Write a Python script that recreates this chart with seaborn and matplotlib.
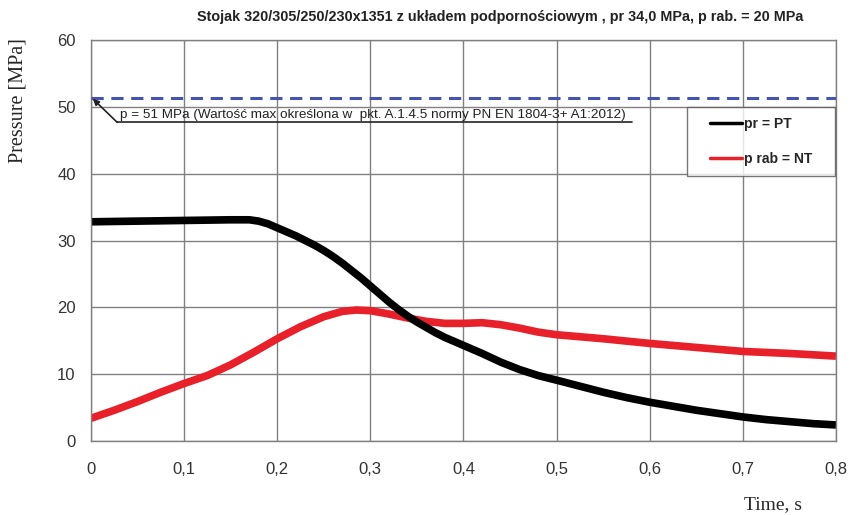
import pandas as pd
import matplotlib.pyplot as plt
import seaborn as sns
from matplotlib.lines import Line2D
from matplotlib.legend_handler import HandlerLine2D

# data
time_pr = [0, 0.05, 0.1, 0.15, 0.17, 0.18, 0.19, 0.2, 0.21, 0.22, 0.23, 0.24,
           0.25, 0.26, 0.27, 0.28, 0.29, 0.3, 0.31, 0.32, 0.33, 0.34, 0.35,
           0.36, 0.37, 0.38, 0.39, 0.4, 0.42, 0.44, 0.46, 0.48, 0.5, 0.525,
           0.55, 0.575, 0.6, 0.625, 0.65, 0.675, 0.7, 0.725, 0.75, 0.775, 0.8]
pr = [32.8, 32.9, 33.0, 33.1, 33.1, 32.9, 32.5, 31.9, 31.3, 30.7, 30.0, 29.3,
      28.5, 27.6, 26.6, 25.5, 24.4, 23.2, 22.0, 20.8, 19.7, 18.7, 17.8,
      17.0, 16.2, 15.5, 14.9, 14.3, 13.1, 11.8, 10.7, 9.8, 9.1, 8.2,
      7.3, 6.5, 5.8, 5.2, 4.6, 4.1, 3.6, 3.2, 2.9, 2.6, 2.4]

time_rab = [0, 0.025, 0.05, 0.075, 0.1, 0.125, 0.15, 0.175, 0.2, 0.225, 0.25,
            0.27, 0.285, 0.3, 0.32, 0.34, 0.36, 0.38, 0.4, 0.42, 0.44, 0.46,
            0.48, 0.5, 0.55, 0.6, 0.65, 0.7, 0.75, 0.8]
p_rab = [3.4, 4.6, 5.9, 7.3, 8.6, 9.8, 11.4, 13.3, 15.3, 17.1, 18.6,
         19.4, 19.6, 19.5, 19.0, 18.4, 17.9, 17.6, 17.6, 17.7, 17.4, 16.9,
         16.3, 15.9, 15.3, 14.6, 14.0, 13.4, 13.1, 12.7]

p_max = 51.3
x_ticks = [0, 0.1, 0.2, 0.3, 0.4, 0.5, 0.6, 0.7, 0.8]
x_labels = ['0', '0,1', '0,2', '0,3', '0,4', '0,5', '0,6', '0,7', '0,8']
y_ticks = [0, 10, 20, 30, 40, 50, 60]

df_pr = pd.DataFrame({'t': time_pr, 'p': pr})
df_rab = pd.DataFrame({'t': time_rab, 'p': p_rab})

sns.set_style('white')
plt.rcParams['font.family'] = ['Liberation Sans', 'DejaVu Sans']

fig = plt.figure(figsize=(8.52, 5.15), dpi=100)
ax = fig.add_axes([0.1068, 0.1437, 0.8744, 0.7786])

grey = '#808080'
sns.lineplot(data=df_rab, x='t', y='p', ax=ax, color='#e8202a', lw=5.5,
             legend=False, solid_joinstyle='round', solid_capstyle='butt')
sns.lineplot(data=df_pr, x='t', y='p', ax=ax, color='black', lw=5.5,
             legend=False, solid_joinstyle='round', solid_capstyle='butt')
ax.axhline(p_max, color='#4454b0', lw=2.2, dashes=(4, 2.5), zorder=3)

ax.set_xlim(0, 0.8)
ax.set_ylim(0, 60)
ax.set_xticks(x_ticks)
ax.set_xticklabels(x_labels)
ax.set_yticks(y_ticks)
ax.grid(True, color=grey, lw=1)
ax.set_axisbelow(True)
for s in ax.spines.values():
    s.set_color(grey)
    s.set_linewidth(1)
ax.tick_params(axis='both', direction='out', length=5, color=grey,
               labelsize=12, labelcolor='#333333', pad=6)
ax.tick_params(axis='x', pad=10)
ax.set_xlabel('')
ax.set_ylabel('')

# callout for the 51 MPa limit
ax.annotate('', xy=(0.002, p_max - 0.1), xytext=(0.028, 47.7),
            arrowprops=dict(arrowstyle='-|>', color='#222222', lw=1.2,
                            mutation_scale=9, shrinkA=0, shrinkB=0))
ax.plot([0.028, 0.581], [47.7, 47.7], color='#222222', lw=1.2)
ax.text(0.031, 47.95, 'p = 51 MPa (Wartość max określona w  pkt. A.1.4.5 normy PN EN 1804-3+ A1:2012)',
        fontsize=9.7, color='#222222', va='bottom', ha='left')

handles = [Line2D([], [], color='black', lw=2.5),
           Line2D([], [], color='#e8202a', lw=2.5)]
leg = ax.legend(handles, ['pr = PT', 'p rab = NT'], loc='upper left',
                bbox_to_anchor=(0.800, 0.832, 0.199, 0.0), mode='expand',
                frameon=True, fancybox=False,
                handler_map={Line2D: HandlerLine2D(xpad=1.0)},
                handlelength=3.3, handletextpad=0.1,
                labelspacing=1.56, borderpad=0.67, borderaxespad=0,
                prop={'weight': 'bold', 'size': 10})
leg.get_frame().set_edgecolor('#555555')
leg.get_frame().set_linewidth(1)

fig.text(0.587, 0.967, 'Stojak 320/305/250/230x1351 z układem podpornościowym , pr 34,0 MPa, p rab. = 20 MPa',
         ha='center', va='center', fontsize=10.4, fontweight='bold', color='#222222')
fig.text(0.021, 0.805, 'Pressure [MPa]', rotation=90, ha='center', va='center',
         fontsize=14.5, family='Liberation Serif')
fig.text(0.907, 0.021, 'Time, s', ha='center', va='center',
         fontsize=14, family='Liberation Serif')

fig.savefig('out.png', dpi=100)
